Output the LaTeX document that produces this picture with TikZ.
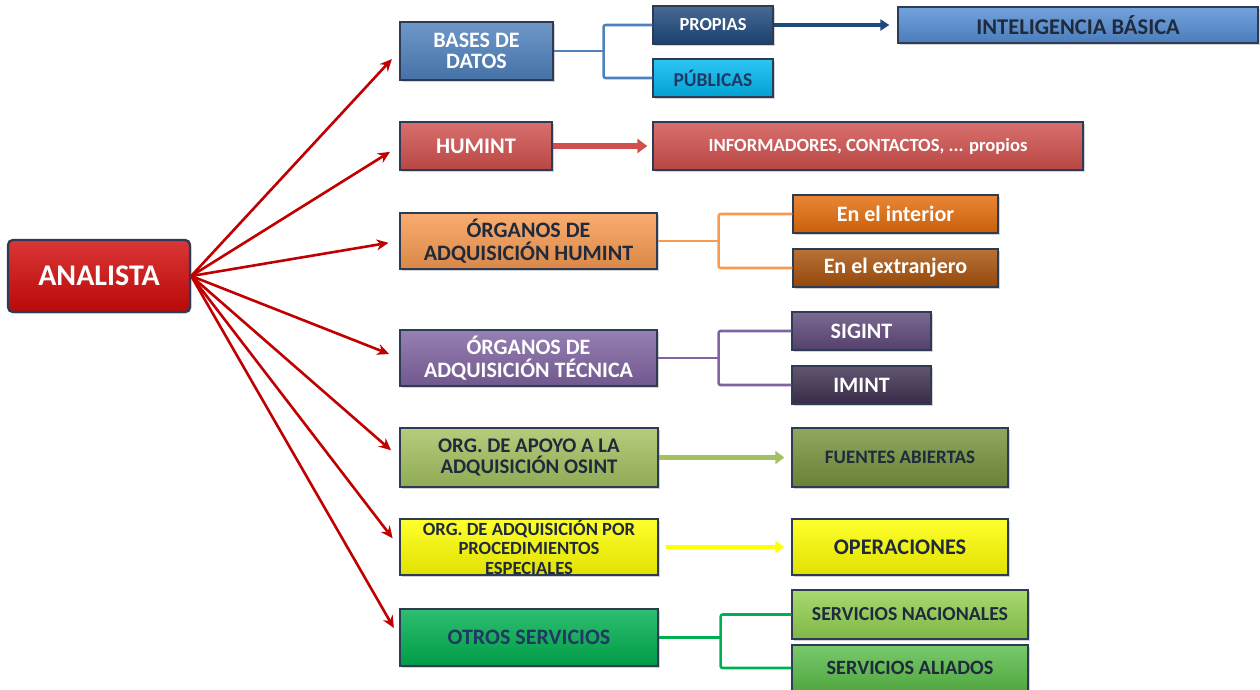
\documentclass[tikz,border=0pt]{standalone}
\usepackage{fontspec}
\setmainfont{Carlito}
\usetikzlibrary{arrows.meta,shadows}
\definecolor{bordc}{HTML}{2E3B55}
\definecolor{cred}{HTML}{D20A0A}
\definecolor{arrred}{HTML}{C00000}
\definecolor{cbases}{HTML}{4F81BD}
\definecolor{cpropias}{HTML}{1F497D}
\definecolor{cpublicas}{HTML}{00B8F0}
\definecolor{cintel}{HTML}{558ED5}
\definecolor{chum}{HTML}{D0504D}
\definecolor{corg}{HTML}{F89A50}
\definecolor{cint}{HTML}{E46C0A}
\definecolor{cext}{HTML}{A8520C}
\definecolor{cpur}{HTML}{8064A2}
\definecolor{csig}{HTML}{5F497A}
\definecolor{cimi}{HTML}{3F3151}
\definecolor{cosint}{HTML}{A4C160}
\definecolor{cfuen}{HTML}{77933C}
\definecolor{cyel}{HTML}{FFFF00}
\definecolor{cotros}{HTML}{00B050}
\definecolor{cnac}{HTML}{92D050}
\definecolor{cali}{HTML}{5CBD4A}
\definecolor{darktxt}{HTML}{1F2A3C}
\definecolor{navytxt}{HTML}{1F3864}
\newcommand{\fs}[2]{\bfseries\fontsize{#1}{#2}\selectfont}
\tikzset{
  box/.style={draw=bordc, line width=1.3pt, inner sep=0pt, align=center,
    top color=#1!82!white, middle color=#1, bottom color=#1!88!black,
    drop shadow={shadow xshift=1.5pt, shadow yshift=-1.5pt, opacity=0.35}},
  mainarrow/.style={draw=arrred, line width=2.6pt, -{Stealth[length=12pt,width=11pt]}, shorten >=11pt},
  link/.style={line width=2.6pt, rounded corners=2pt},
}
\begin{document}
\begin{tikzpicture}[x=1pt,y=-1pt]
\useasboundingbox (0,0) rectangle (1260,689);
% central
\node[box=cred, line width=2.4pt, rounded corners=5pt, minimum width=182pt, minimum height=72pt,
  text=white, font=\fs{30}{32}] (analista) at (99,276) {ANALISTA};
% level 1
\node[box=cbases, minimum width=153pt, minimum height=58pt, text=white,
  font=\fs{22}{21}] (bases) at (476.5,51) {BASES DE\\DATOS};
\node[box=chum, minimum width=152pt, minimum height=48pt, text=white,
  font=\fs{22.3}{24}] (humint) at (476,146) {HUMINT};
\node[box=corg, minimum width=257pt, minimum height=56pt, text=darktxt,
  font=\fs{22}{23}] (orghum) at (528.5,241) {ÓRGANOS DE\\ADQUISICIÓN HUMINT};
\node[box=cpur, minimum width=257pt, minimum height=56pt, text=white,
  font=\fs{22}{23}] (orgtec) at (528.5,358) {ÓRGANOS DE\\ADQUISICIÓN TÉCNICA};
\node[box=cosint, minimum width=258pt, minimum height=59pt, text=darktxt,
  font=\fs{20.8}{21}] (osint) at (529,457.5) {ORG. DE APOYO A LA\\ADQUISICIÓN OSINT};
\node[box=cyel, minimum width=258pt, minimum height=56pt, text=darktxt,
  font=\fs{18.6}{19.5}] (especial) at (529,547) {ORG. DE ADQUISICIÓN POR\\PROCEDIMIENTOS\\ESPECIALES};
\node[box=cotros, minimum width=258pt, minimum height=57pt, text=navytxt,
  font=\fs{22}{24}] (otros) at (529,637.5) {OTROS SERVICIOS};
% level 2
\node[box=cpropias, minimum width=120pt, minimum height=38pt, text=white,
  font=\fs{18.4}{20}] (propias) at (713,25) {PROPIAS};
\node[box=cpublicas, minimum width=120pt, minimum height=38pt, text=navytxt,
  font=\fs{19.5}{21}] (publicas) at (713,78) {PÚBLICAS};
\node[box=cintel, minimum width=360pt, minimum height=36pt, text=darktxt,
  font=\fs{22.5}{24}] (intel) at (1078,25) {INTELIGENCIA BÁSICA};
\node[box=chum, minimum width=430pt, minimum height=48pt, text=white,
  font=\fs{18.6}{20}] (informadores) at (868,146) {INFORMADORES, CONTACTOS, ... propios};
\node[box=cint, minimum width=205pt, minimum height=38pt, text=white,
  font=\fs{22}{24}] (interior) at (895.5,214) {En el interior};
\node[box=cext, minimum width=205pt, minimum height=38pt, text=white,
  font=\fs{22}{24}] (extranjero) at (895.5,268) {En el extranjero};
\node[box=csig, minimum width=139pt, minimum height=38pt, text=white,
  font=\fs{22}{24}] (sigint) at (861.5,331) {SIGINT};
\node[box=cimi, minimum width=139pt, minimum height=38pt, text=white,
  font=\fs{22}{24}] (imint) at (861.5,385) {IMINT};
\node[box=cfuen, minimum width=216pt, minimum height=59pt, text=darktxt,
  font=\fs{19}{21}] (fuentes) at (900,457.5) {FUENTES ABIERTAS};
\node[box=cyel, minimum width=216pt, minimum height=56pt, text=darktxt,
  font=\fs{22.3}{24}] (operaciones) at (900,547) {OPERACIONES};
\node[box=cnac, minimum width=236pt, minimum height=49pt, text=darktxt,
  font=\fs{19.8}{21}] (nacionales) at (910,614.5) {SERVICIOS NACIONALES};
\node[box=cali, minimum width=236pt, minimum height=46pt, text=darktxt,
  font=\fs{20.3}{22}] (aliados) at (910,668) {SERVICIOS ALIADOS};
% fork points
\path (bases.east) ++(50,0) coordinate (f1);
\path (orghum.east) ++(61,0) coordinate (f2);
\path (orgtec.east) ++(61,0) coordinate (f3);
\path (otros.east) ++(62,0) coordinate (f4);
% main arrows
\foreach \t in {bases,humint,orghum,orgtec,osint,especial,otros}
  \draw[mainarrow] (analista.east) -- (\t.west);
% forks
\draw[link, draw=cbases] (bases.east) -- (f1);
\draw[link, draw=cbases] (propias.west) -| (f1) |- (publicas.west);
\draw[link, draw=corg] (orghum.east) -- (f2);
\draw[link, draw=corg] (interior.west) -| (f2) |- (extranjero.west);
\draw[link, draw=cpur] (orgtec.east) -- (f3);
\draw[link, draw=cpur] (sigint.west) -| (f3) |- (imint.west);
\draw[link, draw=cotros] (otros.east) -- (f4);
\draw[link, draw=cotros] (nacionales.west) -| (f4) |- (aliados.west);
% single arrows
\draw[draw=cpropias, line width=3.5pt, -{Triangle[length=9pt,width=11pt]}, shorten >=8pt] (propias.east) -- (propias.east -| intel.west);
\draw[draw=chum, line width=6pt, -{Triangle[length=10pt,width=14pt]}, shorten >=5pt] (humint.east) -- (informadores.west);
\draw[draw=cosint, line width=5pt, -{Triangle[length=9pt,width=13pt]}, shorten >=7pt] (osint.east) -- (fuentes.west);
\draw[draw=cyel, line width=4pt, -{Triangle[length=9pt,width=12pt]}, shorten >=7pt, shorten <=7pt] (especial.east) -- (operaciones.west);
\end{tikzpicture}
\end{document}
